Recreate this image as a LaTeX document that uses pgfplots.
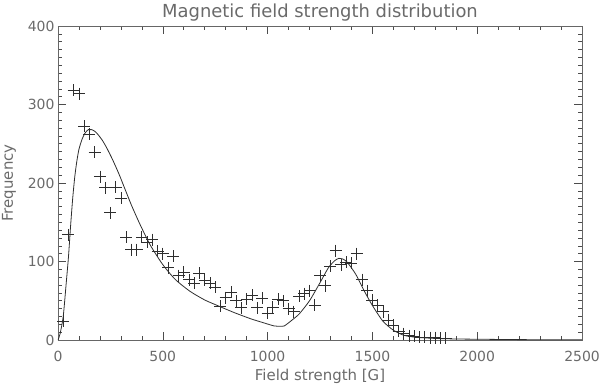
\documentclass[border=0pt]{standalone}
\usepackage{fontspec}
\setmainfont{DejaVu Sans}
\usepackage{pgfplots}
\pgfplotsset{compat=1.18}
\definecolor{txt}{HTML}{6A6A6A}
\definecolor{ink}{HTML}{2E2E2E}
\begin{document}
\begin{tikzpicture}[x=1bp,y=1bp]
\path[use as bounding box] (-58,-46) rectangle (542,340);
\begin{axis}[
  at={(0,0)}, anchor=south west,
  width=524bp, height=314bp, scale only axis,
  xmin=0, xmax=2500, ymin=0, ymax=400,
  xtick={0,500,...,2500}, ytick={0,100,...,400},
  minor x tick num=4, minor y tick num=9,
  tick align=inside,
  major tick length=8bp, minor tick length=4bp,
  axis line style={draw=black!60, line width=0.8bp},
  every tick/.style={draw=black!70, line width=0.6bp},
  /pgf/number format/assume math mode=true,
  /pgf/number format/1000 sep={},
  ticklabel style={font=\fontsize{14}{14}\selectfont, text=txt},
  xticklabel style={yshift=-8bp},
  title={Magnetic field strength distribution},
  title style={font=\fontsize{18}{18}\selectfont, text=txt,
    at={(axis description cs:0.5,1)}, anchor=base, yshift=3bp},
  xlabel={Field strength [G]},
  xlabel style={font=\fontsize{15}{15}\selectfont, text=txt,
    at={(axis description cs:0.5,0)}, anchor=base, yshift=-40bp},
  ylabel={Frequency},
  ylabel style={font=\fontsize{15}{15}\selectfont, text=txt,
    at={(axis description cs:0,0.5)}, anchor=base, yshift=45bp},
]
\addplot[only marks, mark=+, mark size=6bp, color=ink,
  mark options={line width=0.7bp}] coordinates {
(25,24) (50,134) (75,318) (100,314) (125,272) (150,262) (175,239) (200,208)
(225,194) (250,162) (275,195) (300,181) (325,131) (350,115) (375,115) (400,131)
(425,125) (450,128) (475,113) (500,110) (525,92) (550,107) (575,82) (600,86)
(625,77) (650,72) (675,85) (700,76) (725,72) (750,67) (775,43) (800,54)
(825,61) (850,50) (875,41) (900,52) (925,57) (950,41) (975,53) (1000,34)
(1025,42) (1050,52) (1075,50) (1100,40) (1125,36) (1150,56) (1175,59) (1200,63)
(1225,44) (1250,82) (1275,69) (1300,94) (1325,114) (1350,96) (1375,99) (1400,98)
(1425,110) (1450,77) (1475,63) (1500,51) (1525,44) (1550,36) (1575,25) (1600,19)
(1625,11) (1650,8) (1675,5.5) (1700,5) (1725,4) (1750,4) (1775,3) (1800,3)
(1825,2) (1850,2)
};
\addplot[ink, line width=0.8bp, smooth, tension=0.4] coordinates {
(0,0) (10,8) (25,30) (40,75) (50,106) (60,145) (70,180) (80,208) (90,228)
(100,243) (115,256) (130,264) (145,268) (160,268) (175,266) (190,262)
(210,255) (230,246) (260,230) (290,212) (320,192) (350,172) (390,148)
(440,121) (500,96) (560,77) (630,62) (700,51) (760,44) (840,35) (920,27)
(980,22) (1030,18) (1060,17.5) (1080,18) (1110,24) (1150,33) (1200,50)
(1250,73) (1290,92) (1320,101) (1340,104) (1360,103) (1380,99) (1420,84)
(1460,63) (1500,44) (1550,24) (1600,12.5) (1650,6) (1710,3.4) (1800,2)
(1900,1.3) (2000,1) (2200,0.5) (2500,0.2)
};
\end{axis}
\end{tikzpicture}
\end{document}
